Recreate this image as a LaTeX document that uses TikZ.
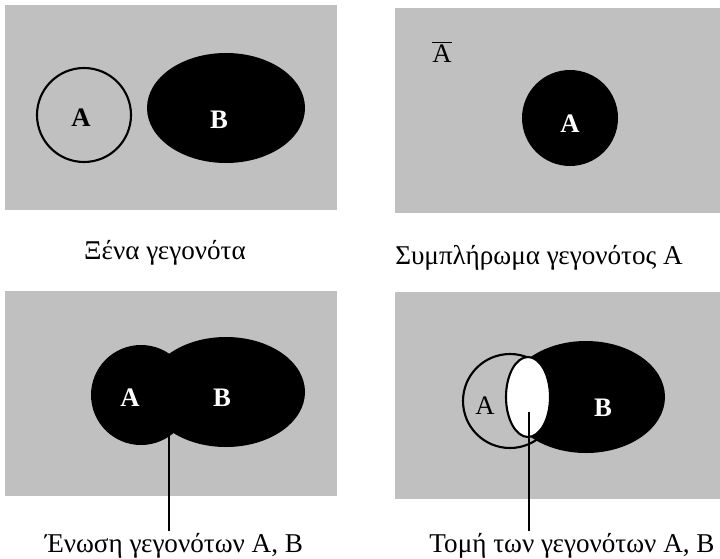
\documentclass[tikz,border=0pt]{standalone}
\usepackage{fontspec}
\setmainfont{Liberation Serif}
\definecolor{paperGray}{RGB}{192,192,192}
\usepackage{tikz}
\usetikzlibrary{positioning}

\begin{document}
\begin{tikzpicture}[x=0.025cm, y=-0.025cm, line width=1.5pt,
    every node/.style={font=\fontsize{19.3}{23}\selectfont},
    setlabel/.style={font=\fontsize{19}{22}\selectfont\bfseries},
    inlabel/.style={setlabel, text=white}]
  \useasboundingbox (0,0) rectangle (720,558);
  % Backgrounds
  \fill[paperGray] (5,5) rectangle (337,210);
  \fill[paperGray] (395,8) rectangle (720,213);
  \fill[paperGray] (5,291) rectangle (337,496);
  \fill[paperGray] (395,292) rectangle (720,499);
  % Foreign events
  \draw (84,115) circle [radius=47];
  \fill[black] (226,108) ellipse [x radius=79, y radius=55];
  \node[setlabel] (a1) at (81,118) {A};
  \node[inlabel] (b1) at (219,120) {B};
  % Complement
  \fill[black] (570,118) circle [radius=48];
  \node[inlabel] (a2) at (570,124) {A};
  \node[setlabel, font=\fontsize{19}{22}\selectfont] (abar) at (442,52) {$\overline{\mathrm{A}}$};
  % Union
  \fill[black] (141,395) circle [radius=50];
  \fill[black] (226,392) ellipse [x radius=79, y radius=55];
  \node[inlabel] (a3) at (130,398) {A};
  \node[inlabel] (b3) at (222,398) {B};
  \coordinate (pinch) at (169,434);
  % Intersection
  \fill[black] (586,397) ellipse [x radius=79, y radius=56];
  \draw (510,401) circle [radius=47];
  \draw[fill=white] (528,397) ellipse [x radius=22, y radius=40];
  \node[setlabel, font=\fontsize{19}{22}\selectfont] (a4) at (485,406) {A};
  \node[inlabel] (b4) at (603,408) {B};
  \coordinate (lens) at (529,412);
  % Captions
  \node (cap1) at (165,253) {Ξένα γεγονότα};
  \node (cap2) at (539,258) {Συμπλήρωμα γεγονότος Α};
  \node[inner sep=1pt] (cap3) at (174,546) {Ένωση γεγονότων Α, Β};
  \node[inner sep=1pt] (cap4) at (572,546) {Τομή των γεγονότων Α, Β};
  % Pointers
  \draw (pinch) -- (pinch |- cap3.north);
  \draw (lens) -- (lens |- cap4.north);
\end{tikzpicture}
\end{document}
